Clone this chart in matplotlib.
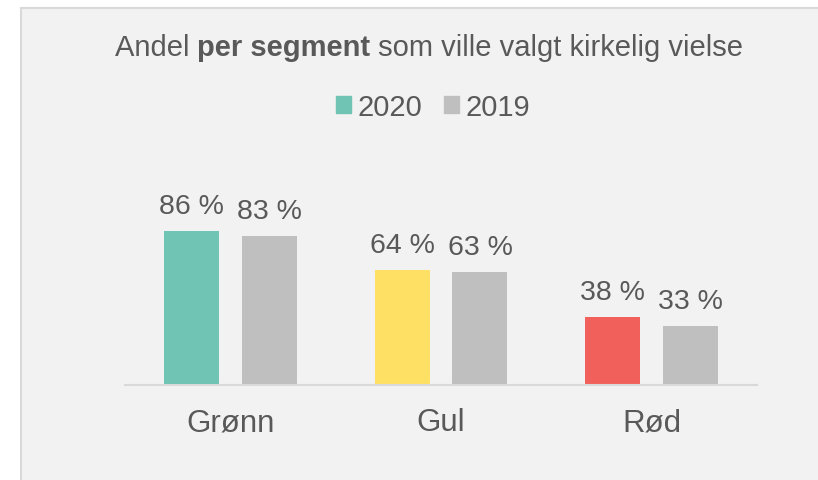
import matplotlib.pyplot as plt
from matplotlib.patches import Patch, Rectangle
from matplotlib.lines import Line2D
import numpy as np

plt.rcParams['font.family'] = ['Liberation Sans', 'DejaVu Sans']

# data
segments = ['Grønn', 'Gul', 'Rød']
share_2020 = [86, 64, 38]
share_2019 = [83, 63, 33]
colors_2020 = ['#70c4b4', '#fde064', '#f2605b']
color_2019 = '#bfbfbf'
txt = '#595959'

W, H = 818, 481
fig = plt.figure(figsize=(W / 100, H / 100), dpi=100)
fig.patch.set_facecolor('white')

# grey panel with thin border on left/top
fig.patches.append(Rectangle((21 / W, 0), 1, 1 - 9 / H, transform=fig.transFigure,
                             facecolor='#f2f2f2', edgecolor='none', zorder=-2))
fig.lines.append(Line2D([21 / W, 21 / W], [0, 1 - 9 / H], transform=fig.transFigure,
                        color='#d9d9d9', lw=1.5))
fig.lines.append(Line2D([21 / W, 1], [1 - 9 / H, 1 - 9 / H], transform=fig.transFigure,
                        color='#d9d9d9', lw=1.5))

ax = fig.add_axes([125 / W, (H - 386) / H, (757 - 125) / W, 179 / H])
ax.set_facecolor('none')
x = np.arange(len(segments))
bw = 0.261
off = 0.185
b1 = ax.bar(x - off, share_2020, bw, color=colors_2020)
b2 = ax.bar(x + off, share_2019, bw, color=color_2019)

for bars, vals in ((b1, share_2020), (b2, share_2019)):
    for r, v in zip(bars, vals):
        ax.annotate(f'{v} %', (r.get_x() + r.get_width() / 2, v), xytext=(0, 13),
                    textcoords='offset points', ha='center', va='baseline',
                    fontsize=20.5, color=txt)

ax.set_xlim(-0.5, 2.5)
ax.set_ylim(0, 100)
ax.set_xticks(x)
ax.set_xticklabels(segments, fontsize=22.5, color=txt)
ax.tick_params(axis='x', length=0, pad=16)
ax.set_yticks([])
for s in ('top', 'right', 'left'):
    ax.spines[s].set_visible(False)
ax.spines['bottom'].set_color('#d9d9d9')
ax.spines['bottom'].set_linewidth(1.5)

# title with bold middle part
parts = [('Andel ', 'normal'), ('per segment', 'bold'), (' som ville valgt kirkelig vielse', 'normal')]
texts = [fig.text(0, 1 - 48 / H, p, fontsize=21, fontweight=w, color=txt, va='center')
         for p, w in parts]
fig.canvas.draw()
r = fig.canvas.get_renderer()
widths = [t.get_window_extent(r).width for t in texts]
xpos = 429 - sum(widths) / 2
for t, w in zip(texts, widths):
    t.set_x(xpos / W)
    xpos += w

handles = [Patch(color=colors_2020[0], label='2020'), Patch(color=color_2019, label='2019')]
fig.legend(handles=handles, loc='center', bbox_to_anchor=(433 / W, 1 - 108 / H), ncol=2,
           frameon=False, fontsize=21, labelcolor=txt, handlelength=0.5, handleheight=0.5,
           handletextpad=0.22, columnspacing=0.75)

fig.savefig('out.png', dpi=100)
